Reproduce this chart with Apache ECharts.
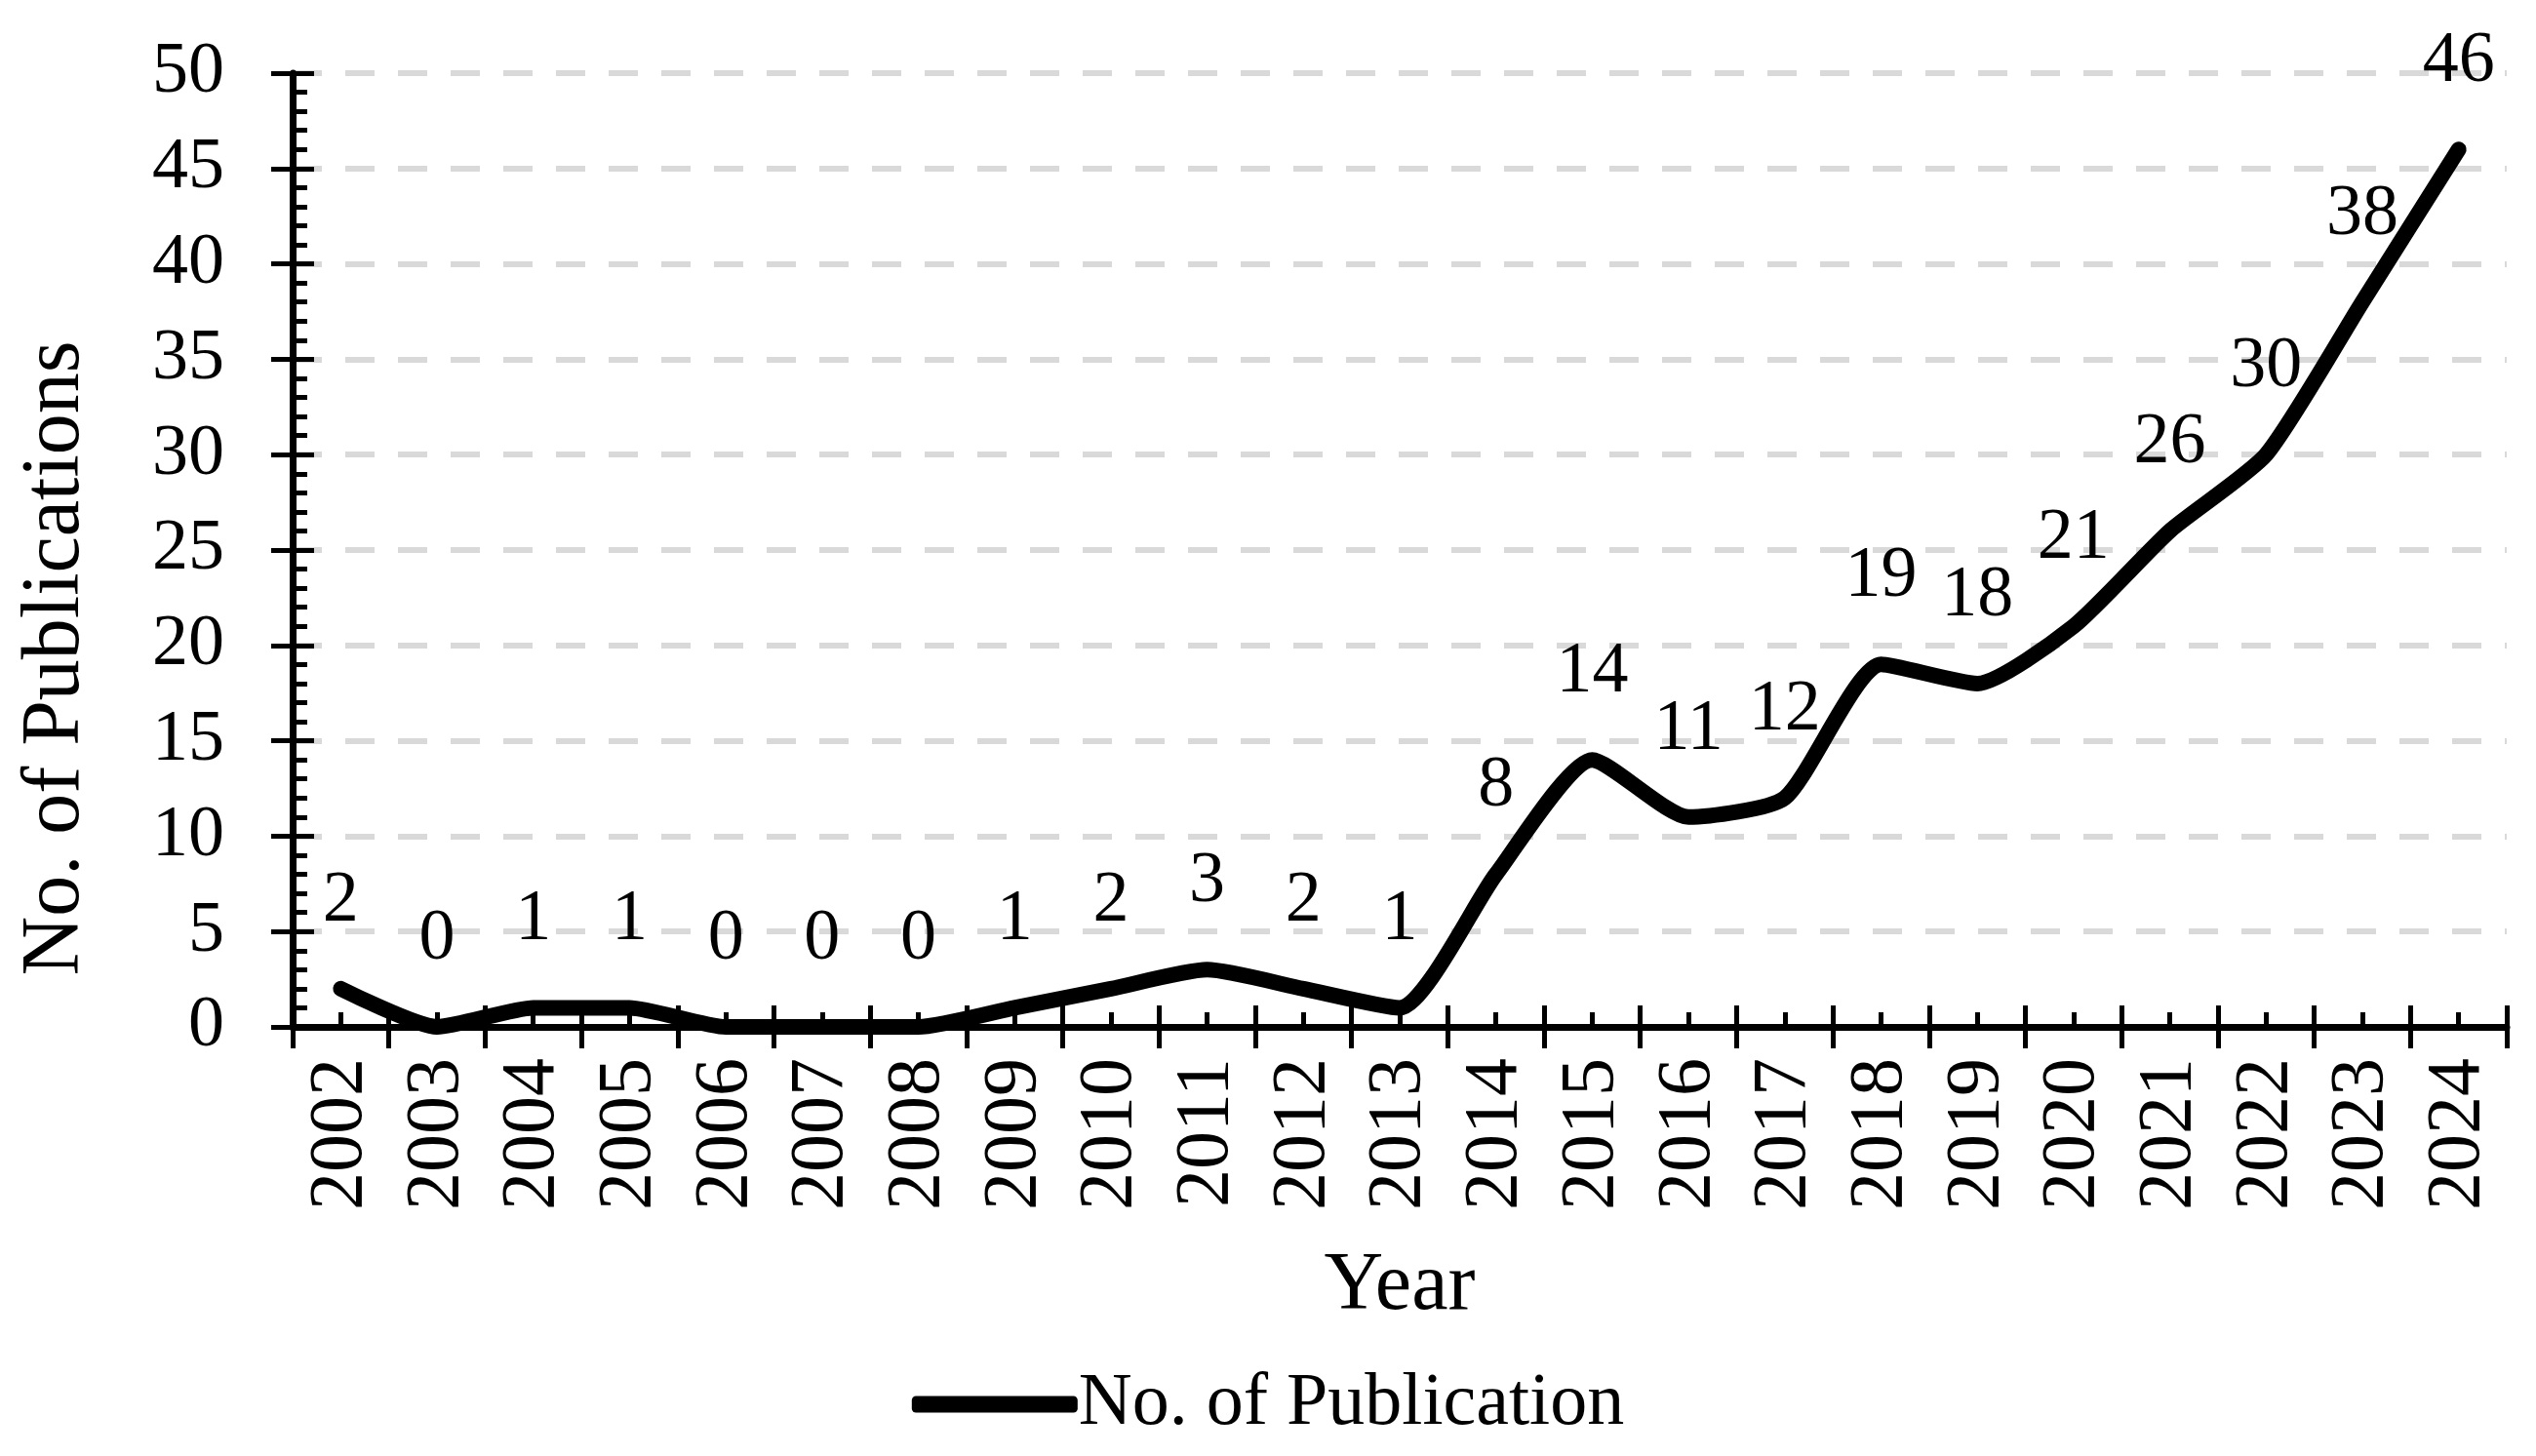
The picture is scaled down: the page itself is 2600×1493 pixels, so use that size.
<!DOCTYPE html>
<html><head><meta charset="utf-8">
<script src="https://cdn.jsdelivr.net/npm/echarts@6/dist/echarts.min.js"></script>
<style>html,body{margin:0;padding:0;background:#fff}#c{width:2600px;height:1493px}</style>
</head><body><div id="c"></div>
<script>
const years = ['2002','2003','2004','2005','2006','2007','2008','2009','2010','2011','2012','2013','2014','2015','2016','2017','2018','2019','2020','2021','2022','2023','2024'];
const publications = [2,0,1,1,0,0,0,1,2,3,2,1,8,14,11,12,19,18,21,26,30,38,46];
const seriesName = 'No. of Publication';
const xTitle = 'Year';
const yTitle = 'No. of Publications';

const FONT = "'Liberation Serif','Times New Roman',serif";
const chart = echarts.init(document.getElementById('c'));
const baseY = {type:'value', min:0, max:50, interval:5, position:'left'};
chart.setOption({
  animation:false,
  backgroundColor:'#fff',
  grid:{left:300, right:30, top:75, bottom:440},
  legend:{
    bottom:10, left:'center', icon:'roundRect', itemWidth:170, itemHeight:17, itemGap:10,
    textStyle:{fontFamily:FONT, fontSize:76, color:'#000', padding:[0,0,0,-4]},
    data:[seriesName]
  },
  xAxis:[
    {type:'category', data:years, position:'bottom', boundaryGap:true,
     name:xTitle, nameLocation:'middle', nameGap:225,
     nameTextStyle:{fontFamily:FONT, fontSize:84, color:'#000'},
     axisLine:{show:true, lineStyle:{color:'#000', width:7}},
     axisTick:{show:true, inside:false, length:22, interval:0, lineStyle:{color:'#000', width:5}},
     axisLabel:{rotate:90, interval:0, margin:32, fontFamily:FONT, fontSize:78, color:'#000'},
     splitLine:{show:false}},
    {type:'category', data:years, position:'bottom', boundaryGap:true,
     axisLine:{show:false}, axisLabel:{show:false},
     axisTick:{show:true, inside:true, length:22, interval:0, lineStyle:{color:'#000', width:5}},
     splitLine:{show:false}},
    {type:'category', data:years, position:'bottom', boundaryGap:true,
     axisLine:{show:false}, axisLabel:{show:false},
     axisTick:{show:true, inside:true, length:15, interval:0, alignWithLabel:true, lineStyle:{color:'#000', width:5}},
     splitLine:{show:false}}
  ],
  yAxis:[
    Object.assign({}, baseY, {
      name:yTitle, nameLocation:'middle', nameGap:200,
      nameTextStyle:{fontFamily:FONT, fontSize:84, color:'#000', padding:[0,222,0,0]},
      axisLine:{show:true, lineStyle:{color:'#000', width:7}},
      axisTick:{show:true, inside:true, length:22, lineStyle:{color:'#000', width:5}},
      minorTick:{show:true, splitNumber:5, length:15, lineStyle:{color:'#000', width:5}},
      axisLabel:{margin:70, fontFamily:FONT, fontSize:74, color:'#000'},
      splitLine:{show:true, lineStyle:{color:'#d9d9d9', width:6, type:[30,24]}}
    }),
    Object.assign({}, baseY, {
      axisLine:{show:false}, axisLabel:{show:false},
      axisTick:{show:true, inside:false, length:22, lineStyle:{color:'#000', width:5}},
      splitLine:{show:false}
    })
  ],
  series:[{
    name:seriesName, type:'line', data:publications, xAxisIndex:0, yAxisIndex:0,
    smooth:0.2, symbol:'circle', symbolSize:1, showSymbol:true,
    lineStyle:{color:'#000', width:16, cap:'round', join:'round'},
    itemStyle:{color:'#000'},
    label:{show:true, position:'top', distance:52, fontFamily:FONT, fontSize:74, color:'#000'},
    z:5
  }]
});
</script></body></html>
